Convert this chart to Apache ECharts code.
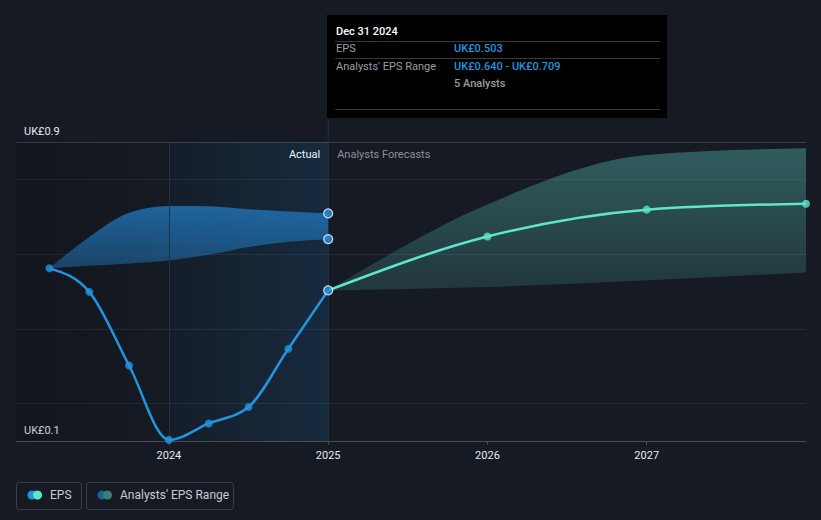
<!DOCTYPE html>
<html>
<head>
<meta charset="utf-8">
<script src="https://cdn.jsdelivr.net/npm/echarts@6/dist/echarts.min.js"></script>
<style>
html,body{margin:0;padding:0;background:#151a23;}
#chart{width:821px;height:520px;}
</style>
</head>
<body>
<div id="chart"></div>
<script>
// ---- data (decimal years) ----
const actualDates = [2023.25, 2023.5, 2023.75, 2024.0, 2024.25, 2024.5, 2024.75, 2025.0];
const epsActual = [0.562, 0.499, 0.302, 0.103, 0.147, 0.191, 0.347, 0.503];
const pastRangeLow = [0.562, 0.569, 0.575, 0.583, 0.598, 0.619, 0.633, 0.640];
const pastRangeHigh = [0.562, 0.646, 0.711, 0.729, 0.728, 0.720, 0.714, 0.709];
const forecastDates = [2025.0, 2026.0, 2027.0, 2028.0];
const epsForecast = [0.503, 0.647, 0.719, 0.735];
const forecastLow = [0.503, 0.512, 0.530, 0.551];
const forecastHigh = [0.503, 0.733, 0.865, 0.883];
const xTickYears = [2024, 2025, 2026, 2027];
const yTickLabels = [0.1, 0.9];
const analystsCount = 5;
const tooltipDate = 'Dec 31 2024';

const FONT = 'Roboto, "Open Sans", sans-serif';
const BLUE = '#2394df';
const TEAL = '#5ee6cc';

const pair = (xs, ys) => xs.map((x, i) => [x, ys[i]]);
const triple = (xs, lo, hi) => xs.map((x, i) => [x, lo[i], hi[i]]);

// monotone cubic (x) segments in pixel space
function sign(v) { return v < 0 ? -1 : 1; }
function monoTangents(p) {
  const n = p.length, t = new Array(n).fill(0);
  if (n < 2) return t;
  const s = [];
  for (let i = 0; i < n - 1; i++) s.push((p[i + 1][1] - p[i][1]) / (p[i + 1][0] - p[i][0]));
  for (let i = 1; i < n - 1; i++) {
    const h0 = p[i][0] - p[i - 1][0], h1 = p[i + 1][0] - p[i][0];
    const s0 = s[i - 1], s1 = s[i];
    const q = (s0 * h1 + s1 * h0) / (h0 + h1);
    t[i] = (sign(s0) + sign(s1)) * Math.min(Math.abs(s0), Math.abs(s1), 0.5 * Math.abs(q)) || 0;
  }
  if (n === 2) { t[0] = t[1] = s[0]; }
  else {
    t[0] = (3 * s[0] - t[1]) / 2;
    t[n - 1] = (3 * s[n - 2] - t[n - 2]) / 2;
  }
  return t;
}
function monoSegs(p) {
  const t = monoTangents(p), segs = [];
  for (let i = 0; i < p.length - 1; i++) {
    const dx = (p[i + 1][0] - p[i][0]) / 3;
    segs.push([[p[i][0] + dx, p[i][1] + dx * t[i]], [p[i + 1][0] - dx, p[i + 1][1] - dx * t[i + 1]], p[i + 1]]);
  }
  return segs;
}
function linePath(p) {
  let d = 'M' + p[0][0] + ' ' + p[0][1];
  monoSegs(p).forEach(s => { d += 'C' + s[0].join(' ') + ' ' + s[1].join(' ') + ' ' + s[2].join(' '); });
  return d;
}
function bandPath(up, lo) {
  let d = linePath(up);
  const n = lo.length;
  d += 'L' + lo[n - 1][0] + ' ' + lo[n - 1][1];
  const segs = monoSegs(lo);
  for (let i = segs.length - 1; i >= 0; i--) {
    const s = segs[i];
    d += 'C' + s[1].join(' ') + ' ' + s[0].join(' ') + ' ' + lo[i].join(' ');
  }
  return d + 'Z';
}

function lineRenderer(color, width) {
  return function (params, api) {
    if (params.dataIndexInside !== 0) return null;
    const pts = [];
    for (let i = 0; i < params.dataInsideLength; i++) pts.push(api.coord([api.value(0, i), api.value(1, i)]));
    return {type: 'path', shape: {pathData: linePath(pts)}, style: {fill: 'none', stroke: color, lineWidth: width, lineJoin: 'round'}, silent: true};
  };
}
function bandRenderer(fill) {
  return function (params, api) {
    if (params.dataIndexInside !== 0) return null;
    const up = [], lo = [];
    for (let i = 0; i < params.dataInsideLength; i++) {
      const x = api.value(0, i);
      lo.push(api.coord([x, api.value(1, i)]));
      up.push(api.coord([x, api.value(2, i)]));
    }
    return {type: 'path', shape: {pathData: bandPath(up, lo)}, style: {fill: fill, stroke: 'none'}, silent: true};
  };
}

const chart = echarts.init(document.getElementById('chart'), null, {renderer: 'svg'});

const splitColors = ['transparent', '#252b34', 'transparent', '#252b34', 'transparent', '#252b34', 'transparent', '#252b34', '#3a3f48'];

const option = {
  backgroundColor: '#151a23',
  animation: false,
  textStyle: {fontFamily: FONT},
  grid: {left: 16, right: 15, top: 142, bottom: 79, containLabel: false},
  xAxis: {
    type: 'value', min: 2023.04, max: 2028,
    axisLine: {show: true, lineStyle: {color: '#474c55', width: 1}},
    axisTick: {show: true, length: 4, customValues: xTickYears, lineStyle: {color: '#474c55'}},
    axisLabel: {customValues: xTickYears, color: '#e8eaed', fontSize: 11, margin: 9, fontFamily: FONT,
      formatter: v => String(Math.round(v))},
    splitLine: {show: false}
  },
  yAxis: {
    type: 'value', min: 0.1, max: 0.9, interval: 0.1,
    axisLine: {show: false}, axisTick: {show: false},
    axisLabel: {
      inside: true, margin: 8, color: '#e8eaed', fontSize: 11, fontFamily: FONT,
      verticalAlign: 'bottom', padding: [0, 0, 5, 0],
      showMinLabel: true, showMaxLabel: true,
      formatter: v => {
        const r = Math.round(v * 10) / 10;
        return yTickLabels.some(t => Math.abs(t - r) < 1e-6) ? 'UK£' + r.toFixed(1) : '';
      }
    },
    splitLine: {show: true, lineStyle: {color: splitColors, width: 1}}
  },
  series: [
    // highlight of last actual year + vertical guides
    {
      type: 'line', name: 'guides', data: pair(actualDates, epsActual), symbol: 'none',
      lineStyle: {opacity: 0, width: 0}, z: 0, silent: true,
      markArea: {
        silent: true,
        data: [
          [{xAxis: 2023.04, itemStyle: {color: new echarts.graphic.LinearGradient(0, 0, 1, 0, [
            {offset: 0, color: 'rgba(0,0,0,0.16)'},
            {offset: 1, color: 'rgba(0,0,0,0.0)'}
          ])}}, {xAxis: 2024}],
          [{xAxis: 2024, itemStyle: {color: new echarts.graphic.LinearGradient(0, 0, 1, 0, [
            {offset: 0, color: 'rgba(33,150,243,0.03)'},
            {offset: 1, color: 'rgba(33,150,243,0.13)'}
          ])}}, {xAxis: 2025}]
        ]
      },
      markLine: {
        silent: true, symbol: 'none', label: {show: false},
        lineStyle: {color: '#1c3448', type: 'solid', width: 1},
        data: [{xAxis: 2024}, {xAxis: 2025}]
      }
    },
    // past analysts' range band
    {
      type: 'custom', name: 'pastBand', data: triple(actualDates, pastRangeLow, pastRangeHigh),
      encode: {x: 0, y: [1, 2]}, z: 2, silent: true,
      renderItem: bandRenderer(new echarts.graphic.LinearGradient(0, 0, 0, 1, [
        {offset: 0, color: 'rgba(33,120,190,0.78)'},
        {offset: 1, color: 'rgba(33,120,190,0.45)'}
      ]))
    },
    // forecast range band
    {
      type: 'custom', name: 'fcBand', data: triple(forecastDates, forecastLow, forecastHigh),
      encode: {x: 0, y: [1, 2]}, z: 2, silent: true,
      renderItem: bandRenderer(new echarts.graphic.LinearGradient(0, 0, 0, 1, [
        {offset: 0, color: 'rgba(80,170,160,0.46)'},
        {offset: 1, color: 'rgba(80,170,160,0.20)'}
      ]))
    },
    // EPS forecast line
    {
      type: 'custom', name: 'EPS forecast line', data: pair(forecastDates, epsForecast),
      encode: {x: 0, y: 1}, z: 4, silent: true, renderItem: lineRenderer(TEAL, 2.5)
    },
    // EPS actual line
    {
      type: 'custom', name: 'EPS line', data: pair(actualDates, epsActual),
      encode: {x: 0, y: 1}, z: 5, silent: true, renderItem: lineRenderer(BLUE, 2.5)
    },
    // forecast markers
    {
      type: 'scatter', name: 'EPS forecast', data: pair(forecastDates, epsForecast).slice(1),
      symbol: 'circle', symbolSize: 8, itemStyle: {color: TEAL}, z: 6, clip: false
    },
    // actual markers
    {
      type: 'scatter', name: 'EPS', data: pair(actualDates, epsActual).map((d, i, a) => ({
        value: d,
        symbolSize: i === a.length - 1 ? 9 : 8,
        itemStyle: i === a.length - 1 ? {color: BLUE, borderColor: '#ffffff', borderWidth: 1.2} : {color: BLUE}
      })),
      symbol: 'circle', z: 7
    },
    // range end markers
    {
      type: 'scatter', name: 'rangeEnd',
      data: [[actualDates[actualDates.length - 1], pastRangeHigh[pastRangeHigh.length - 1]],
             [actualDates[actualDates.length - 1], pastRangeLow[pastRangeLow.length - 1]]],
      symbol: 'circle', symbolSize: 9,
      itemStyle: {color: BLUE, borderColor: '#ffffff', borderWidth: 1.2}, z: 7
    }
  ]
};

chart.setOption(option);

const x2025 = chart.convertToPixel({xAxisIndex: 0}, 2025);
const yTop = chart.convertToPixel({yAxisIndex: 0}, 0.9);
const epsLast = epsActual[epsActual.length - 1];
const lowLast = pastRangeLow[pastRangeLow.length - 1];
const highLast = pastRangeHigh[pastRangeHigh.length - 1];

const tipX = Math.round(x2025) - 1, tipY = 15, tipW = 340, tipH = 103;
const col2 = tipX + 127;

chart.setOption({
  graphic: [
    {type: 'line', shape: {x1: x2025, y1: tipY + tipH, x2: x2025, y2: yTop}, style: {stroke: '#1c3448', lineWidth: 1}, silent: true},
    {type: 'text', x: x2025 - 8, y: 154, style: {text: 'Actual', fill: '#ffffff', font: '11px ' + FONT, textAlign: 'right', textVerticalAlign: 'middle'}},
    {type: 'text', x: x2025 + 9, y: 154, style: {text: 'Analysts Forecasts', fill: '#8b9097', font: '11px ' + FONT, textAlign: 'left', textVerticalAlign: 'middle'}},
    {type: 'rect', shape: {x: tipX, y: tipY, width: tipW, height: tipH}, style: {fill: '#000000'}, z: 10},
    {type: 'text', x: tipX + 9, y: 31, z: 11, style: {text: tooltipDate, fill: '#ffffff', font: '500 11px ' + FONT, textVerticalAlign: 'middle'}},
    {type: 'line', z: 11, shape: {x1: tipX + 8, y1: 41.5, x2: tipX + 333, y2: 41.5}, style: {stroke: '#3a3a3a', lineWidth: 1}},
    {type: 'text', x: tipX + 9, y: 48, z: 11, style: {text: 'EPS', fill: '#9a9da2', font: '11px ' + FONT, textVerticalAlign: 'middle'}},
    {type: 'text', x: col2, y: 48, z: 11, style: {text: 'UK£' + epsLast.toFixed(3), fill: BLUE, font: '500 11px ' + FONT, textVerticalAlign: 'middle'}},
    {type: 'line', z: 11, shape: {x1: tipX + 8, y1: 58.5, x2: tipX + 333, y2: 58.5}, style: {stroke: '#3a3a3a', lineWidth: 1}},
    {type: 'text', x: tipX + 9, y: 66, z: 11, style: {text: "Analysts' EPS Range", fill: '#9a9da2', font: '11px ' + FONT, textVerticalAlign: 'middle'}},
    {type: 'text', x: col2, y: 66, z: 11, style: {text: 'UK£' + lowLast.toFixed(3) + ' - UK£' + highLast.toFixed(3), fill: BLUE, font: '500 11px ' + FONT, textVerticalAlign: 'middle'}},
    {type: 'text', x: col2, y: 83, z: 11, style: {text: analystsCount + ' Analysts', fill: '#9a9da2', font: '500 11px ' + FONT, textVerticalAlign: 'middle'}},
    {type: 'line', z: 11, shape: {x1: tipX + 8, y1: 109.5, x2: tipX + 333, y2: 109.5}, style: {stroke: '#3a3a3a', lineWidth: 1}},
    {type: 'rect', shape: {x: 16.5, y: 482.5, width: 65, height: 27, r: 3}, style: {fill: 'none', stroke: '#3b4049', lineWidth: 1}},
    {type: 'circle', shape: {cx: 32, cy: 495, r: 4.5}, style: {fill: BLUE}},
    {type: 'circle', shape: {cx: 37.5, cy: 495, r: 4.5}, style: {fill: TEAL}},
    {type: 'text', x: 50, y: 495, style: {text: 'EPS', fill: '#c8ccd2', font: '12px ' + FONT, textVerticalAlign: 'middle'}},
    {type: 'rect', shape: {x: 86.5, y: 482.5, width: 147, height: 27, r: 3}, style: {fill: 'none', stroke: '#3b4049', lineWidth: 1}},
    {type: 'circle', shape: {cx: 102, cy: 495, r: 4.5}, style: {fill: '#1f5f90'}},
    {type: 'circle', shape: {cx: 107.5, cy: 495, r: 4.5}, style: {fill: '#3b7f7a'}},
    {type: 'text', x: 120, y: 495, style: {text: "Analysts' EPS Range", fill: '#c8ccd2', font: '12px ' + FONT, textVerticalAlign: 'middle'}}
  ]
});
</script>
</body>
</html>
